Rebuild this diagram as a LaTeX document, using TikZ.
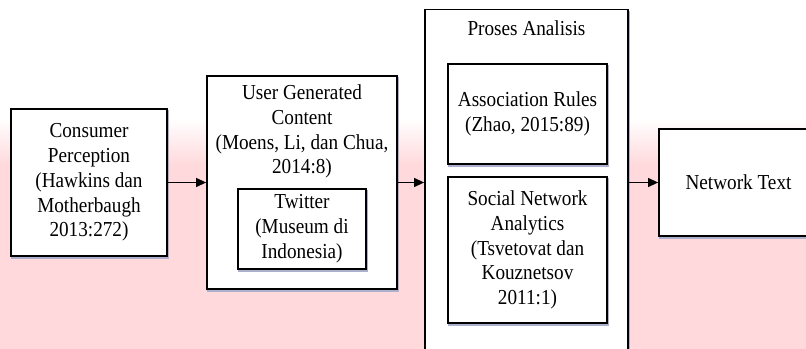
\documentclass[tikz,border=0pt]{standalone}
\usepackage{fontspec}
\setmainfont{Liberation Serif}[FakeStretch=0.9]
\usetikzlibrary{arrows.meta}
\definecolor{bgpink}{RGB}{255,217,220}
\definecolor{shadowc}{RGB}{172,176,204}
\begin{document}
\begin{tikzpicture}[x=0.75pt,y=-0.75pt,
  box/.style={draw=black, line width=1.2pt, fill=white, inner sep=0pt,
    preaction={draw=shadowc, line width=1.4pt, transform canvas={xshift=0.8pt,yshift=-1.7pt}}},
  txt/.style={font=\fontsize{16pt}{18.6pt}\selectfont, align=center, inner sep=0pt},
  conn/.style={line width=1.4pt, -{Triangle[length=7.5pt,width=6.5pt]}}]
\useasboundingbox (0,0) rectangle (806,349);
% background
\fill[white] (0,0) rectangle (806,118);
\shade[top color=white, bottom color=bgpink] (0,118) rectangle (806,165);
\fill[bgpink] (0,165) rectangle (806,349);
% boxes
\node[box, txt, minimum width=117pt, minimum height=110.25pt] (cons) at (89,182.5)
  {Consumer\\Perception\\(Hawkins dan\\Motherbaugh\\2013:272)};
\node[box, minimum width=142.5pt, minimum height=159.75pt] (ugc) at (302,182.5) {};
\node[txt] (ugctext) at (302,131.5) {User Generated\\Content\\(Moens, Li, dan Chua,\\2014:8)};
\node[box, txt, minimum width=96pt, minimum height=60pt] (tw) at (302,229)
  {Twitter\\(Museum di\\Indonesia)};
\node[box, minimum width=152.25pt, minimum height=259.5pt] (proses) at (526.5,182.5) {};
\node[txt] (prosestext) at (526.5,28) {Proses Analisis};
\node[box, txt, minimum width=119.25pt, minimum height=75pt] (assoc) at (527.5,114)
  {Association Rules\\(Zhao, 2015:89)};
\node[box, txt, minimum width=119.25pt, minimum height=109.5pt] (sna) at (527.5,250)
  {Social Network\\Analytics\\(Tsvetovat dan\\Kouznetsov\\2011:1)};
\node[box, txt, minimum width=119.25pt, minimum height=80.25pt] (net) at (738.5,182.5)
  {Network Text};
% connectors
\draw[conn] (cons.east) -- (ugc.west);
\draw[conn] (ugc.east) -- (proses.west);
\draw[conn] (proses.east) -- (net.west);
\end{tikzpicture}
\end{document}
